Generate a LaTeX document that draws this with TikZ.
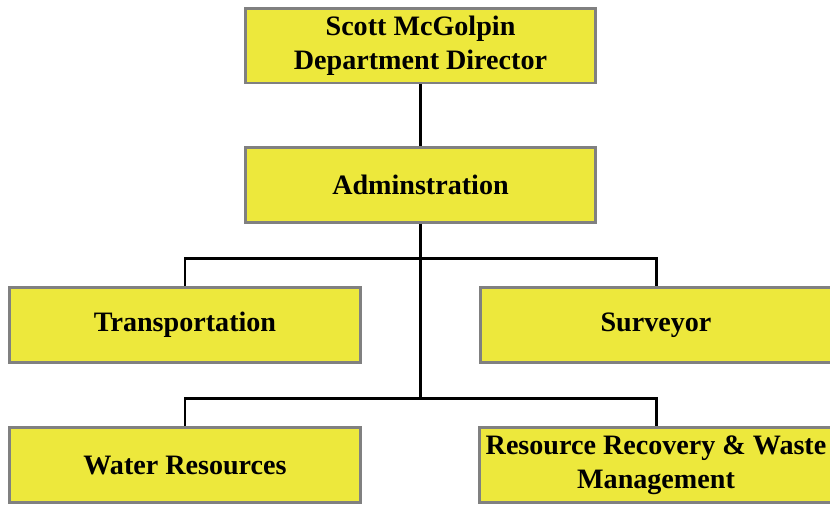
\documentclass[tikz,border=0pt]{standalone}
\usepackage{fontspec}
\setmainfont{Liberation Serif}
\usetikzlibrary{positioning}

\definecolor{boxfill}{HTML}{EDE83C}
\definecolor{boxline}{HTML}{808080}

\begin{document}
\begin{tikzpicture}[x=0.02cm,y=-0.02cm]
          \tikzset{unitbox/.style = {draw=boxline, fill=boxfill, line width=1.7pt,
                   minimum width=7.02cm, minimum height=1.5cm, align=center,
                   font=\bfseries\fontsize{16}{19.5}\selectfont}}
          \tikzset{link/.style = {line width=1.7pt}}

          \useasboundingbox (0,0) rectangle (830,504);

          \node[unitbox] (dir)   at (420.5,45.5) {Scott McGolpin\\Department Director};
          \node[unitbox] (admin) at (420.5,185)  {Adminstration};

          \node[unitbox] (trans) at (185,325)   {Transportation};
          \node[unitbox] (surv)  at (656,325)   {Surveyor};
          \node[unitbox] (water) at (185,465) {Water Resources};
          \node[unitbox] (waste) at (656,465) {Resource Recovery \& Waste\\Management};

          \coordinate (hub) at (admin.south |- 0,398);

          \draw[link] (dir) -- (admin);
          \draw[link] (admin) -- (hub);
          \draw[link] (trans.north) |- (admin.south |- 0,258) -| (surv.north);
          \draw[link] (water.north) |- (hub) -| (waste.north);
        \end{tikzpicture}
\end{document}
